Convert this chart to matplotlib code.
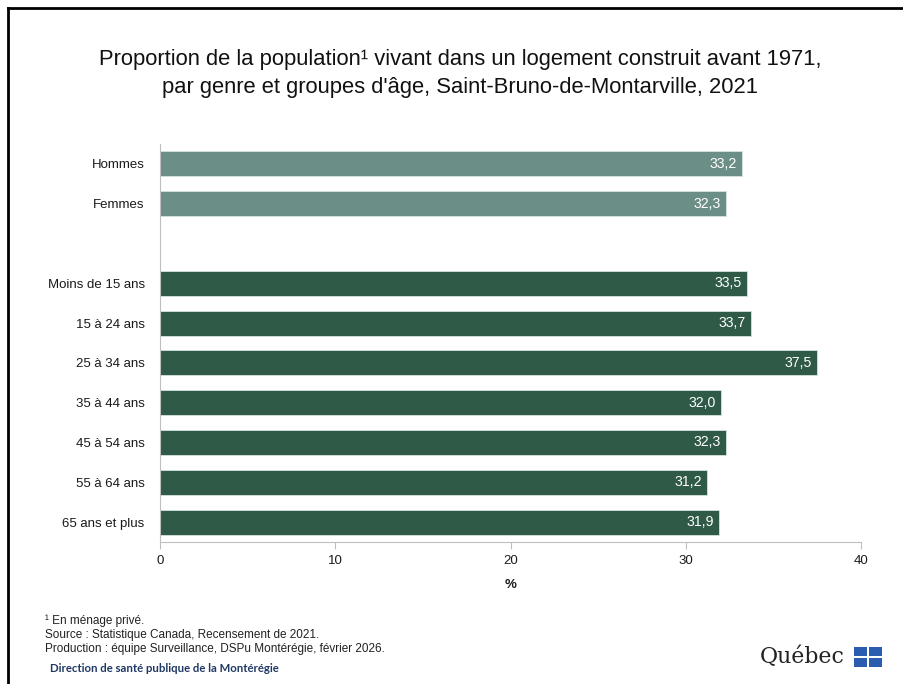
import matplotlib
matplotlib.use("Agg")
import matplotlib.pyplot as plt
from matplotlib.patches import Rectangle
from matplotlib.lines import Line2D

# data (empty label = spacer row between genre and age groups)
categories = ["Hommes", "Femmes", "", "Moins de 15 ans", "15 à 24 ans", "25 à 34 ans",
              "35 à 44 ans", "45 à 54 ans", "55 à 64 ans", "65 ans et plus"]
values = [33.2, 32.3, None, 33.5, 33.7, 37.5, 32.0, 32.3, 31.2, 31.9]
groups = ["genre", "genre", None, "age", "age", "age", "age", "age", "age", "age"]
x_ticks = [0, 10, 20, 30, 40]

colors = {"genre": "#6b8f87", "age": "#2f5a47"}

plt.rcParams["font.family"] = ["Liberation Sans", "DejaVu Sans"]

fig = plt.figure(figsize=(9.04, 6.84), dpi=100)
ax = fig.add_axes([160 / 904, 1 - 542 / 684, (861 - 160) / 904, (542 - 144) / 684])

for i, (v, g) in enumerate(zip(values, groups)):
    if v is None:
        continue
    ax.barh(i, v, height=0.63, color=colors[g], edgecolor="#d5e3df", linewidth=0.6)
    ax.text(v - 0.3, i, f"{v:.1f}".replace(".", ","), ha="right", va="center",
            color="white", fontsize=10.2)

ax.set_ylim(len(categories) - 0.5, -0.5)
ax.set_xlim(0, 40)
ax.set_yticks(range(len(categories)))
ax.set_yticklabels(categories, fontsize=9.5, color="#1a1a1a")
ax.tick_params(axis="y", length=0, pad=11)
ax.set_xticks(x_ticks)
ax.set_xticklabels([str(t) for t in x_ticks], fontsize=9.5, color="#1a1a1a")
ax.tick_params(axis="x", length=5, color="#bfbfbf", pad=4)
ax.set_xlabel("%", fontsize=9.5, fontweight="bold", labelpad=9, color="#1a1a1a")

for s in ["top", "right"]:
    ax.spines[s].set_visible(False)
ax.spines["left"].set_color("#bfbfbf")
ax.spines["bottom"].set_color("#bfbfbf")

# title
fig.text(460 / 904, 1 - 60 / 684,
         "Proportion de la population¹ vivant dans un logement construit avant 1971,",
         ha="center", va="center", fontsize=15.8, color="#111111")
fig.text(460 / 904, 1 - 87 / 684,
         "par genre et groupes d'âge, Saint-Bruno-de-Montarville, 2021",
         ha="center", va="center", fontsize=15.8, color="#111111")

# footnotes
notes = ["¹ En ménage privé.",
         "Source : Statistique Canada, Recensement de 2021.",
         "Production : équipe Surveillance, DSPu Montérégie, février 2026."]
for k, line in enumerate(notes):
    fig.text(45 / 904, 1 - (621 + k * 14) / 684, line, ha="left", va="center",
             fontsize=8.5, color="#222222")
fig.text(50 / 904, 1 - 669 / 684, "Direction de santé publique de la Montérégie",
         ha="left", va="center", fontsize=8.2, fontweight="bold", color="#1f3864",
         family=["Lato", "DejaVu Sans"])

# Québec signature
fig.text(760 / 904, 1 - 657 / 684, "Québec", ha="left", va="center",
         fontsize=15.8, color="#222222", family=["DejaVu Serif"])
for r in range(2):
    for c in range(2):
        x0 = (854 + c * 15) / 904
        y0 = 1 - (647 + r * 11 + 9) / 684
        fig.patches.append(Rectangle((x0, y0), 13 / 904, 9 / 684, transform=fig.transFigure,
                                     facecolor="#2a5db0", edgecolor="none"))
fig.lines.append(Line2D([854 / 904, 882 / 904], [1 - 656.5 / 684] * 2, transform=fig.transFigure,
                        color="white", linewidth=1.2))
fig.lines.append(Line2D([868 / 904] * 2, [1 - 647 / 684, 1 - 667 / 684], transform=fig.transFigure,
                        color="white", linewidth=1.2))

# frame (left and top only, as in the reference)
fig.lines.append(Line2D([8 / 904, 8 / 904], [0, 1 - 8 / 684], transform=fig.transFigure,
                        color="black", linewidth=2))
fig.lines.append(Line2D([8 / 904, 1], [1 - 8 / 684] * 2, transform=fig.transFigure,
                        color="black", linewidth=2))

fig.savefig("out.png", dpi=100, facecolor="white")
